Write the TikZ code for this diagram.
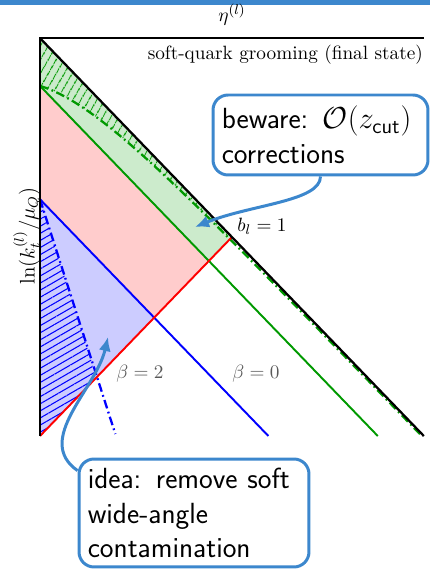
\documentclass[tikz,border=0pt]{standalone}
\usepackage{amsmath}
\usepackage{xcolor}
\usetikzlibrary{arrows.meta, patterns.meta, positioning}

\definecolor{cblue}{RGB}{60,135,205}
\colorlet{dgreen}{green!60!black}
\colorlet{lgreen}{dgreen!20}

\begin{document}
\begin{tikzpicture}[
x=0.02cm, y=0.02cm,
font=\fontsize{10.95}{13.6}\selectfont,
lund_line/.style={line width=1.1pt},
dd_line/.style={line width=1.3pt, dash pattern=on 5pt off 2pt on 1pt off 2pt},
beta_label/.style={text=black!65},
call_box/.style={rectangle, rounded corners=0.3cm, draw=cblue, line width=1.7pt, fill=white, inner xsep=0.175cm, align=left, font=\fontsize{16.6}{19.8}\selectfont\sffamily},
call_arrow/.style={draw=cblue, line width=1.7pt, -{Latex[length=8pt, width=7pt]}}
]
\useasboundingbox (0,0) rectangle (430,569);
% top bar
\fill[cblue] (0,564) rectangle (430,569);

% Lund plane, 45 degree lines
\begin{scope}[shift={(40,133)}, x=0.0192cm, y=0.0199cm]
\coordinate (O) at (0,0);
\coordinate (top) at (0,400);
\coordinate (corner) at (400,400);
\coordinate (kin) at (400,0);
\coordinate (zc) at (0,352);
\coordinate (zcend) at (352,0);
\coordinate (bt) at (0,238);
\coordinate (btend) at (238,0);
\coordinate (redend) at (200,200);

% Regions
\fill[lgreen] (top) -- (redend) -- (176,176) -- (zc) -- cycle;
\fill[red!20] (zc) -- (176,176) -- (119,119) -- (bt) -- cycle;
\fill[blue!20] (bt) -- (119,119) -- (O) -- cycle;
\fill[pattern={Lines[angle=60, distance=4pt, line width=0.7pt]}, pattern color=dgreen]
  (top) -- (198,202) -- plot[domain=198:0, samples=40] (\x,{398-\x-46*exp(-\x/65)}) -- cycle;
\fill[pattern={Lines[angle=30, distance=3.5pt, line width=0.6pt]}, pattern color=blue]
  (bt) -- (59,59) -- (O) -- cycle;

% Lines
\draw[lund_line, blue] (bt) -- (btend);
\draw[lund_line, dgreen] (zc) -- (zcend);
\draw[dd_line, blue] (bt) -- (78.5,2);
\draw[dd_line, dgreen] plot[domain=0:396, samples=80] (\x,{398-\x-46*exp(-\x/65)});
\draw[lund_line, red] (O) -- (redend);
\draw[line width=1.3pt] (top) -- (kin);
\draw[line width=1pt] (O) -- (top) -- (corner);
\end{scope}

% Labels
\node (eta) at (232,554) {$\eta^{(l)}$};
\node[anchor=east] (title) at (429,514) {soft-quark grooming (final state)};
\node[rotate=90, font=\fontsize{12}{14}\selectfont] (ylabel) at (27,333) {$\ln(k_t^{(l)}/\mu_Q)$};
\node (bl) at (262,343) {$b_l=1$};
\node[beta_label] (beta2) at (140,195) {$\beta=2$};
\node[beta_label] (beta0) at (256,195) {$\beta=0$};

% Callouts
\node[call_box, text width=3.95cm, minimum height=1.6cm] (beware) at (320.5,434) {beware: $\mathcal{O}(z_{\mathsf{cut}})$\\corrections};
\node[call_box, text width=4.25cm, minimum height=2.16cm] (idea) at (194,56) {idea: remove soft\\wide-angle\\contamination};
\coordinate (tipA) at (195,342);
\coordinate (tipB) at (108,232);
\draw[call_arrow] (beware.south) to[out=-90, in=22, out distance=0.5cm, in distance=1.2cm] (tipA);
\draw[call_arrow] (idea.160) to[out=145, in=-103] (tipB);
\end{tikzpicture}
\end{document}
